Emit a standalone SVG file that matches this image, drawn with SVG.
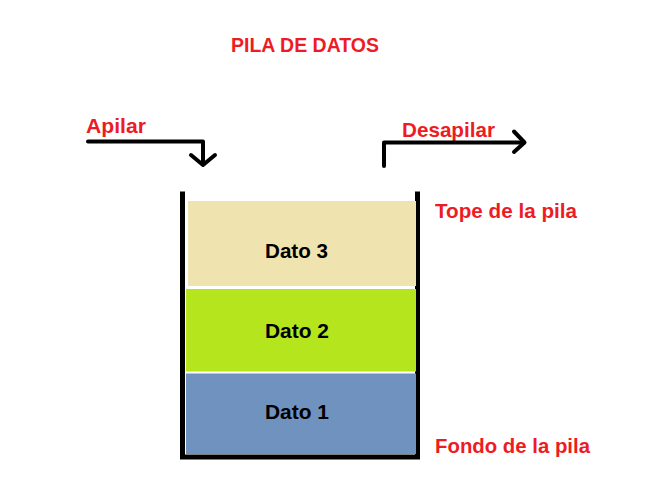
<svg xmlns="http://www.w3.org/2000/svg" width="672" height="498" viewBox="0 0 672 498">
<style>
.t{font-family:"Liberation Sans",Arial,sans-serif;font-weight:bold;font-size:20.5px}
.red{fill:#ED1C24}
.blk{fill:#000}
.arrow{fill:none;stroke:#000;stroke-width:4;stroke-linecap:round;stroke-linejoin:round}
</style>
<rect width="672" height="498" fill="#fff"/>
<text class="t red" x="231" y="52" textLength="148" lengthAdjust="spacingAndGlyphs">PILA DE DATOS</text>
<g id="stack">
<path d="M182.5 191.5 V457 H417.5 V191.5" fill="none" stroke="#000" stroke-width="5"/>
</g>
<g id="dato3">
<rect x="188" y="201" width="228" height="85" fill="#EFE4B0"/>
<text class="t blk" x="265" y="258" textLength="63" lengthAdjust="spacingAndGlyphs">Dato 3</text>
</g>
<g id="dato2">
<rect x="186" y="289" width="230" height="82.5" fill="#B5E61D"/>
<text class="t blk" x="265" y="338" textLength="64" lengthAdjust="spacingAndGlyphs">Dato 2</text>
</g>
<g id="dato1">
<rect x="186" y="373.5" width="230" height="80.5" fill="#7092BE"/>
<text class="t blk" x="265" y="419" textLength="64" lengthAdjust="spacingAndGlyphs">Dato 1</text>
</g>
<g id="labels">
<text class="t red" x="86" y="133" textLength="60" lengthAdjust="spacingAndGlyphs">Apilar</text>
<text class="t red" x="402" y="137" textLength="93" lengthAdjust="spacingAndGlyphs">Desapilar</text>
<text class="t red" x="435" y="218" textLength="142" lengthAdjust="spacingAndGlyphs">Tope de la pila</text>
<text class="t red" x="435" y="453" textLength="155" lengthAdjust="spacingAndGlyphs">Fondo de la pila</text>
</g>
<g id="connectors">
<path class="arrow" d="M88 141.5 H203 V164"/>
<path class="arrow" d="M191 155 L203 165 L215 155"/>
<path class="arrow" d="M384 166 V142.5 H524"/>
<path class="arrow" d="M514 131.5 L524.5 142.5 L514 152"/>
</g>
</svg>
